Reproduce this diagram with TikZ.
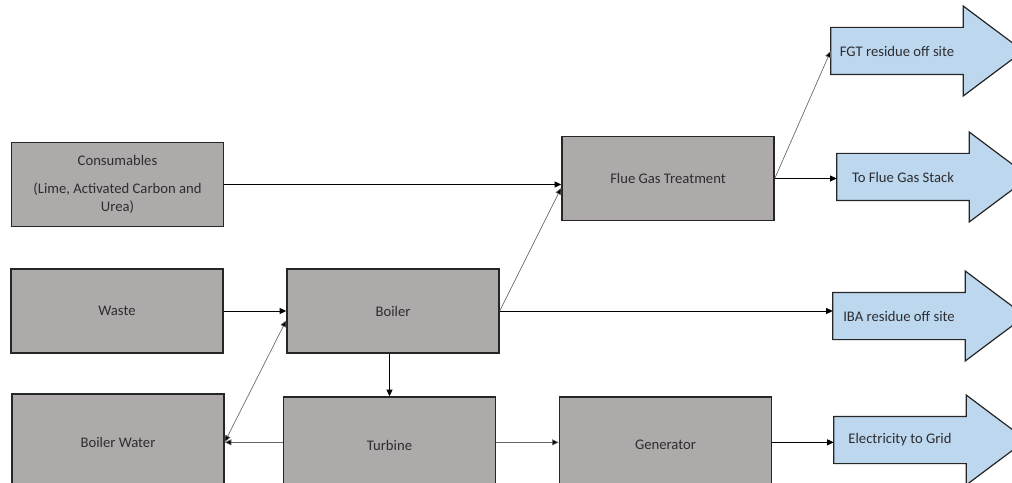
\documentclass[tikz,border=0pt]{standalone}
\usepackage{fontspec}
\setmainfont{Carlito}
\usetikzlibrary{arrows.meta,backgrounds}
\definecolor{boxgray}{RGB}{174,170,170}
\definecolor{outblue}{RGB}{189,215,238}
\definecolor{txt}{RGB}{45,45,50}

\begin{document}
\begin{tikzpicture}[x=0.75pt,y=0.75pt,>={Triangle[length=5pt,width=4.5pt]},
  stage/.style={draw=black!85,line width=1.1pt,fill=boxgray,text=txt,
    minimum width=159pt,minimum height=63pt,inner sep=0pt,font=\fontsize{11}{13}\selectfont},
  outbody/.style={minimum width=99pt,minimum height=35pt,inner sep=0pt,text=txt,
    font=\fontsize{11}{13}\selectfont},
  outline/.style={draw=black!85,line width=0.9pt,fill=outblue},
  flow/.style={->,line width=0.7pt,black},
  thin/.style={-{Triangle[length=5pt,width=4.5pt,fill=black]},line width=0.5pt,gray!80!black}]
\useasboundingbox (0,0) rectangle (1012,482);
\clip (0,0) rectangle (1012,482);
% process boxes
\node[stage,align=center] (cons) at (117.5,297.5)
  {Consumables\\[8pt](Lime, Activated Carbon and\\Urea)};
\node[stage] (waste) at (117,171) {Waste};
\node[stage] (boiler) at (393,171) {Boiler};
\node[stage,minimum height=72pt] (bwater) at (118,40) {Boiler Water};
\node[stage,minimum height=72pt] (turbine) at (389.5,37) {Turbine};
\node[stage,minimum height=72pt] (gen) at (665.5,37) {Generator};
\node[stage] (fgt) at (668,303.5) {Flue Gas Treatment};
% outputs (blue block arrows)
\node[outbody] (fgtres) at (897,431) {FGT residue off site};
\node[outbody] (stack) at (903,305) {To Flue Gas Stack};
\node[outbody] (iba) at (899,166) {IBA residue off site};
\node[outbody] (grid) at (900,42) {Electricity to Grid};
\begin{pgfonlayer}{background}
\foreach \n in {fgtres,stack,iba,grid}
  \draw[outline] (\n.south west) -- (\n.north west) -- (\n.north east)
    -- ([yshift=16pt]\n.north east) -- ([xshift=45pt]\n.east)
    -- ([yshift=-16pt]\n.south east) -- (\n.south east) -- cycle;
\end{pgfonlayer}
% flows
\draw[flow] (cons.east) -- (cons.east -| fgt.west);
\draw[flow] (waste) -- (boiler);
\draw[thin,{Triangle[length=5pt,width=4.5pt,fill=black]}-{Triangle[length=5pt,width=4.5pt,fill=black]}]
  (bwater.east) -- (boiler.185);
\draw[flow] (boiler.south -| turbine.north) -- (turbine.north);
\draw[thin] ([yshift=2pt]turbine.west) -- ([yshift=2pt]turbine.west -| bwater.east);
\draw[thin] (boiler.east) -- (fgt.185);
\draw[flow] (boiler.east) -- (boiler.east -| iba.west);
\draw[thin] (fgt.east) -- (fgtres.west);
\draw[flow] (fgt.east) -- (fgt.east -| stack.west);
\draw[thin] ([yshift=2pt]turbine.east) -- ([yshift=2pt]gen.west);
\draw[flow] ([yshift=2pt]gen.east) -- ([yshift=2pt]gen.east -| grid.west);
\end{tikzpicture}
\end{document}
